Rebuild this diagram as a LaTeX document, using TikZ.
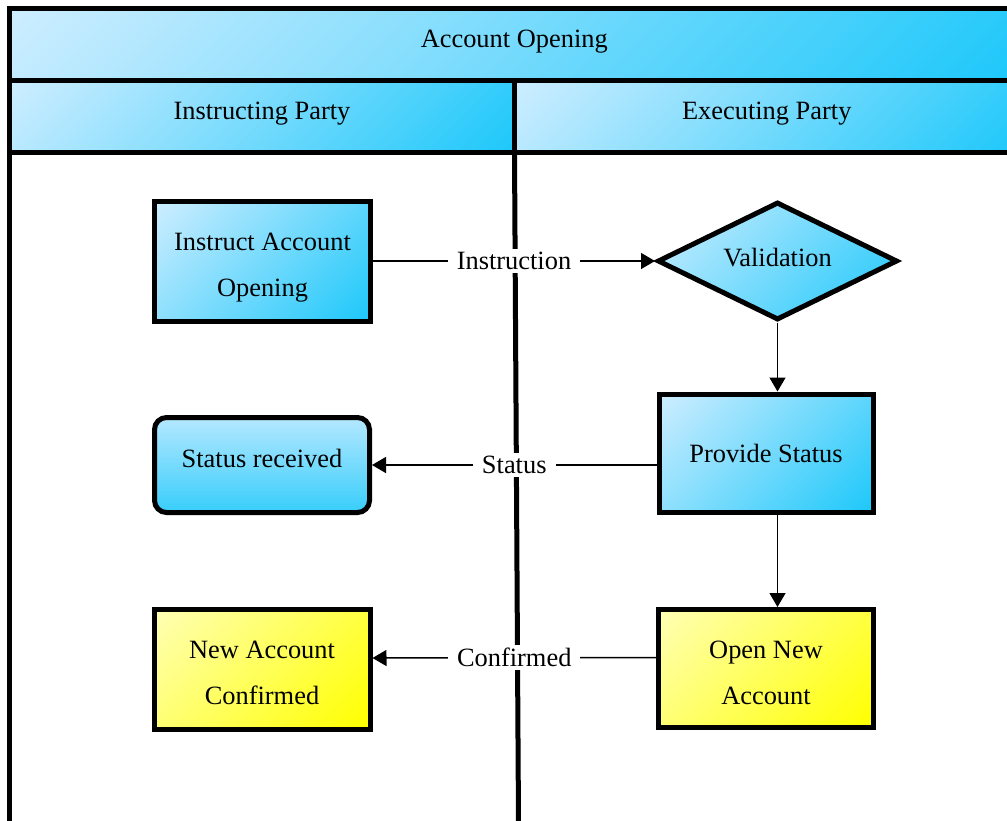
\documentclass[tikz,border=0pt]{standalone}
\usepackage{fontspec}
\setmainfont{Liberation Serif}
\usetikzlibrary{arrows.meta, shapes.geometric}
\definecolor{skylight}{RGB}{205,237,255}
\definecolor{skydark}{RGB}{30,200,250}
\definecolor{lemonlight}{RGB}{255,255,180}
\definecolor{lemondark}{RGB}{255,255,0}
% ramps run over the whole box, also when turned by 45 degrees
\pgfdeclareverticalshading{skyramp}{100bp}{color(0bp)=(skydark); color(15bp)=(skydark);
  color(85bp)=(skylight); color(100bp)=(skylight)}
\pgfdeclareverticalshading{lemonramp}{100bp}{color(0bp)=(lemondark); color(15bp)=(lemondark);
  color(85bp)=(lemonlight); color(100bp)=(lemonlight)}
\newcommand\boxfont{\fontsize{26.4pt}{46pt}\selectfont}
\tikzset{
  band/.style = {draw, line width=5pt, outer sep=0, minimum height=72pt, text depth=11.5pt,
                 shading=skyramp, shading angle=45},
  rule/.style = {line width=5pt},
  task/.style = {draw, line width=5pt, align=center, inner sep=0,
                 shading=skyramp, shading angle=45},
  twoline/.style = {text height=71pt, text depth=0pt},
  donetask/.style = {task, twoline, shading=lemonramp, shading angle=45},
  event/.style = {task, rounded corners=12pt, shading angle=0},
  check/.style = {task, diamond, aspect=2},
  flow/.style = {line width=1.5pt, -{Triangle[length=14pt, width=16pt]}},
  tag/.style = {fill=white, inner xsep=9pt, inner ysep=3pt},
}

\begin{document}
\begin{tikzpicture}[x=1pt, y=-1pt, font=\boxfont]
  \useasboundingbox (0,0) rectangle (1007,820);
  \clip (0,0) rectangle (1007,820);

  % pool title and lane headers
  \node (pool) [band, minimum width=1009.5pt] at (514.25,44.5) {Account Opening};
  \foreach \L/\x/\w/\t in {
    instructing/262/505pt/Instructing Party,
    executing/766.75/504.5pt/Executing Party%
  }{
    \node (\L) [band, minimum width=\w] at (\x,116.5) {\t};
  }

  % lane borders
  \coordinate (floor) at (518.6,840);
  \draw [rule] (instructing.south west) -- (instructing.south west |- floor);
  \draw [rule] (instructing.south east) -- (floor);

  % instructing party
  \node (instruct) [task, twoline, minimum width=216pt, minimum height=120pt] at (262.5,261) {Instruct Account\\Opening};
  \node (received) [event, text depth=14pt, minimum width=215pt, minimum height=95pt] at (262,465) {Status received};
  \node (confirmed) [donetask, minimum width=216pt, minimum height=120pt] at (262,669) {New Account\\Confirmed};

  % executing party
  \node (validation) [check, text depth=8pt, minimum width=240pt, minimum height=118pt] at (777.5,261) {Validation};
  \node (status) [task, minimum width=214pt, minimum height=118pt] at (766,453) {Provide Status};
  \node (open) [donetask, minimum width=215pt, minimum height=118pt] at (766,668.5) {Open New\\Account};

  \draw [flow] (instruct) -- node [tag] {Instruction} (validation);
  \draw [flow] (validation.south) -- (validation.south |- status.north);
  \draw [flow] (received.east -| status.west) -- node [tag] {Status} (received.east);
  \draw [flow] (validation.south |- status.south) -- (validation.south |- open.north);
  \draw [flow] ([yshift=11pt]open.west) -- node [tag] {Confirmed} ([yshift=11pt]confirmed.east);
\end{tikzpicture}
\end{document}
